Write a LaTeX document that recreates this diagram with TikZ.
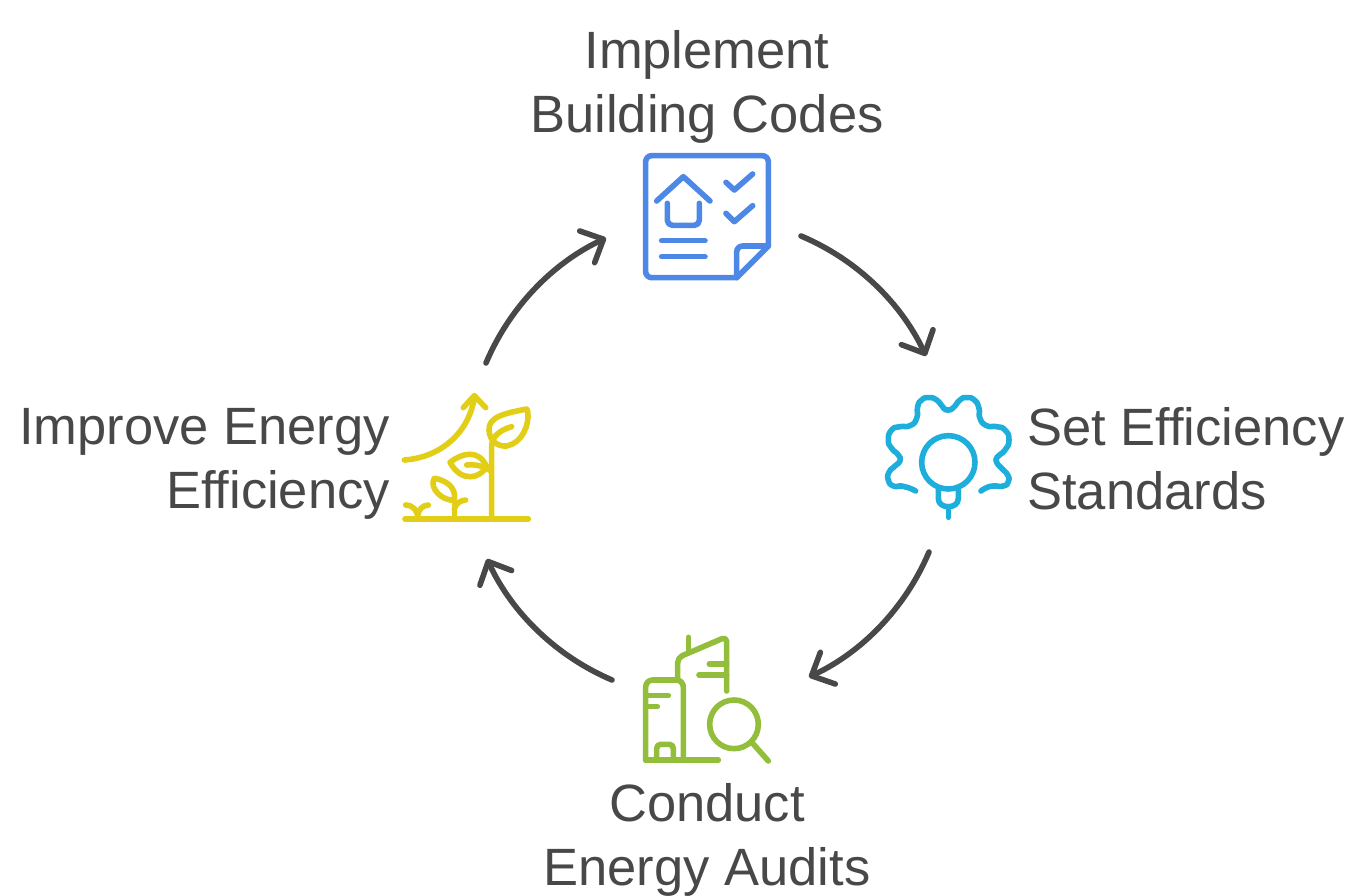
\documentclass[tikz,border=0pt]{standalone}
\usepackage{fontspec}
\setmainfont{Liberation Sans}
\usepackage{tikz}
\usetikzlibrary{arrows.meta,positioning,calc}
\definecolor{txtgray}{HTML}{484848}
\definecolor{icoblue}{HTML}{4E88E7}
\definecolor{icocyan}{HTML}{1EAEDB}
\definecolor{icogreen}{HTML}{93BE3B}
\definecolor{icoyellow}{HTML}{E2CE16}
\tikzset{
  lbl/.style={text=txtgray,inner sep=0pt,font=\fontsize{52.5}{64}\selectfont},
  ico/.style={line width=5.6pt,line cap=round,line join=round},
  cyc/.style={draw=txtgray,line width=5.6pt,line cap=round,line join=round,bend left=21,looseness=.88,
    -{Straight Barb[length=18pt,width=35pt,line width=5.6pt,round]}},
}
\begin{document}
\begin{tikzpicture}[x=1pt,y=-1pt]
\useasboundingbox (0,0) rectangle (1352,896);
% labels
\node (top) [lbl,align=center] at (707,87) {Implement\\Building Codes};
\node (rgt) [lbl,align=left,anchor=west] at (1027,459) {Set Efficiency\\Standards};
\node (bot) [lbl,align=center] at (707,840) {Conduct\\Energy Audits};
\node (lft) [lbl,align=right,anchor=east] at (390,464) {Improve Energy\\Efficiency};
% arrow ends
\coordinate (a1) at (801,236);
\coordinate (a2) at (926,356);
\coordinate (b1) at (929,552);
\coordinate (b2) at (809,677);
\coordinate (c1) at (612,680);
\coordinate (c2) at (487,559);
\coordinate (d1) at (486,363);
\coordinate (d2) at (606,238);
\draw [cyc] (a1) to (a2);
\draw [cyc] (b1) to (b2);
\draw [cyc] (c1) to (c2);
\draw [cyc] (d1) to (d2);
% document icon
\begin{scope}[shift={(630,140)},x=0.3333pt,y=-0.3333pt,ico,draw=icoblue]
\draw [rounded corners=6pt] (320,413) -- (47,413) -- (47,47) -- (415,47) [sharp corners] -- (415,318) -- cycle;
\draw [rounded corners=6pt] (415,318) -- (320,318) [sharp corners] -- (320,413);
\draw (80,183) -- (160,110) -- (240,183);
\draw [rounded corners=5pt] (112,190) -- (112,256) -- (208,256) [sharp corners] -- (208,190);
\draw (288,127) -- (313,150) -- (368,102);
\draw (288,220) -- (313,245) -- (368,197);
\draw (95,302) -- (225,302);
\draw (95,350) -- (225,350);
\end{scope}
% gear icon
\begin{scope}[shift={(875,385)},x=0.3333pt,y=-0.3333pt,ico,draw=icocyan]
\draw plot[smooth,tension=1] coordinates {(122,318) (100,308) (80,303) (55,303) (40,285) (42,262) (60,243) (75,228) (70,210) (50,190) (40,165) (50,135) (75,125) (105,122) (125,100) (128,65) (140,45) (160,38) (185,45) (205,68) (218,75) (235,68) (255,45) (275,38) (298,45) (312,70) (315,100) (335,122) (365,125) (390,135) (402,165) (390,195) (368,215) (365,232) (380,250) (398,270) (400,290) (385,303) (355,303) (335,308) (318,318)};
\draw (220,232) circle[radius=80];
\draw (190,312) -- (190,340) .. controls (190,358) and (205,365) .. (220,365)
  .. controls (235,365) and (250,358) .. (250,340) -- (250,312);
\draw (220,368) -- (220,397);
\end{scope}
% buildings icon
\begin{scope}[shift={(630,625)},x=0.3333pt,y=-0.3333pt,ico,draw=icogreen]
\draw [rounded corners=7pt] (47,405) -- (47,165) -- (160,165) [sharp corners] -- (160,405);
\draw (47,405) -- (265,405);
\draw [rounded corners=4pt] (80,400) -- (80,358) -- (130,358) [sharp corners] -- (130,400);
\draw (47,212) -- (115,212);
\draw (47,245) -- (82,245);
\draw [rounded corners=5pt] (143,162) -- (143,98) -- (290,35) [sharp corners] -- (290,198);
\draw (176,37) -- (176,78);
\draw (238,117) -- (290,117);
\draw (207,150) -- (290,150);
\draw (312,298) circle[radius=73];
\draw (368,355) -- (415,408);
\end{scope}
% plants icon
\begin{scope}[shift={(395,385)},x=0.3333pt,y=-0.3333pt,ico,draw=icoyellow]
\draw (30,402) -- (400,402);
\draw (290,402) -- (290,185) .. controls (290,165) and (300,140) .. (350,125);
\draw (395,72) .. controls (330,85) and (280,95) .. (282,135)
  .. controls (284,170) and (310,185) .. (335,183)
  .. controls (380,175) and (405,120) .. (398,78) -- cycle;
\draw (165,232) .. controls (200,205) and (250,190) .. (275,245)
  .. controls (255,280) and (200,295) .. (165,232) -- cycle;
\draw (215,240) .. controls (240,238) and (265,242) .. (288,258);
\draw (118,280) .. controls (150,285) and (185,305) .. (178,345)
  .. controls (145,350) and (100,310) .. (118,280) -- cycle;
\draw (178,400) -- (178,345);
\draw (178,372) .. controls (182,355) and (195,347) .. (212,345);
\draw (68,400) .. controls (68,375) and (55,362) .. (32,360);
\draw (68,390) .. controls (72,372) and (82,362) .. (100,360);
\draw (28,225) .. controls (130,218) and (220,150) .. (238,38);
\draw (205,68) -- (238,32) -- (272,68);
\end{scope}
\end{tikzpicture}
\end{document}
